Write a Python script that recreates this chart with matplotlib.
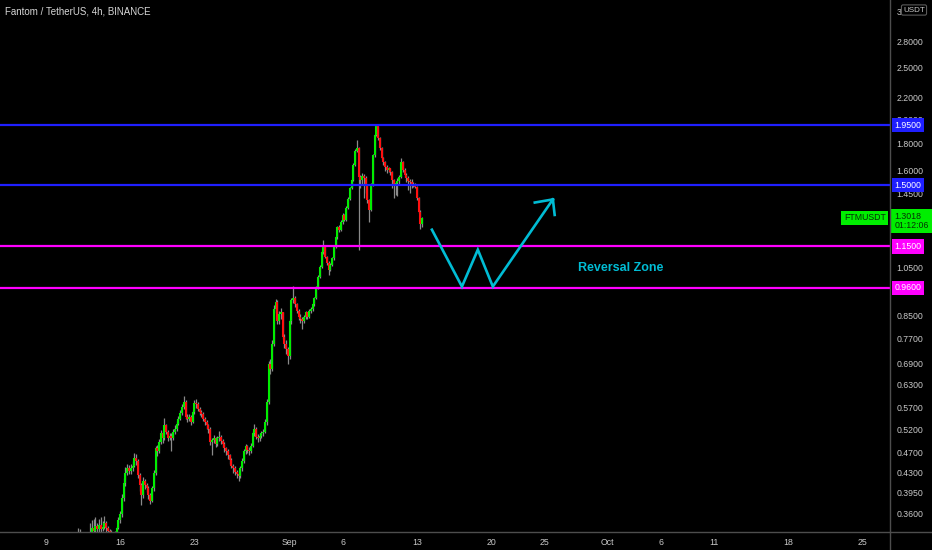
import matplotlib
matplotlib.use('Agg')
import matplotlib.pyplot as plt
import matplotlib.dates as mdates
from matplotlib import font_manager
from matplotlib.lines import Line2D
from matplotlib.transforms import blended_transform_factory
from datetime import datetime, timedelta
import numpy as np

# FTMUSDT 4h candles, first one opens 2021-08-12 00:00 (one row = one day)
first_open = 0.315
closes = [
    0.318, 0.322, 0.320, 0.316, 0.319, 0.321,  # Aug 12
    0.325, 0.331, 0.338, 0.334, 0.341, 0.336,
    0.343, 0.337, 0.340, 0.345, 0.338, 0.334,
    0.332, 0.329, 0.326, 0.330, 0.338, 0.350,
    0.359, 0.385, 0.411, 0.429, 0.438, 0.434,  # Aug 16
    0.438, 0.443, 0.458, 0.453, 0.425, 0.407,
    0.390, 0.415, 0.407, 0.402, 0.390, 0.381,
    0.402, 0.429, 0.478, 0.472, 0.491, 0.510,
    0.499, 0.528, 0.514, 0.499, 0.505, 0.499,  # Aug 20
    0.514, 0.521, 0.532, 0.544, 0.558, 0.573,
    0.585, 0.549, 0.544, 0.549, 0.537, 0.561,
    0.583, 0.580, 0.568, 0.561, 0.556, 0.544,
    0.537, 0.528, 0.521, 0.491, 0.495, 0.499,  # Aug 24
    0.488, 0.499, 0.503, 0.494, 0.488, 0.478,
    0.472, 0.464, 0.454, 0.443, 0.438, 0.431,
    0.427, 0.424, 0.438, 0.452, 0.472, 0.482,
    0.474, 0.472, 0.484, 0.510, 0.521, 0.503,  # Aug 28
    0.499, 0.505, 0.510, 0.514, 0.537, 0.585,
    0.690, 0.675, 0.752, 0.875, 0.905, 0.831,
    0.856, 0.863, 0.776, 0.752, 0.736, 0.714,
    0.831, 0.913, 0.920, 0.894, 0.869, 0.847,  # Sep 1
    0.838, 0.832, 0.847, 0.863, 0.847, 0.869,
    0.875, 0.894, 0.920, 0.960, 1.009, 1.054,
    1.124, 1.148, 1.098, 1.072, 1.040, 1.063,
    1.093, 1.145, 1.196, 1.250, 1.237, 1.279,  # Sep 5
    1.320, 1.291, 1.362, 1.416, 1.482, 1.536,
    1.639, 1.741, 1.761, 1.556, 1.536, 1.563,
    1.546, 1.503, 1.408, 1.349, 1.503, 1.712,
    1.867, 1.942, 1.842, 1.761, 1.690, 1.657,  # Sep 9
    1.626, 1.604, 1.618, 1.587, 1.536, 1.496,
    1.516, 1.530, 1.556, 1.662, 1.604, 1.570,
    1.546, 1.530, 1.523, 1.510, 1.510, 1.490,
    1.419, 1.337, 1.269, 1.302,                # Sep 13
]
highs = [
    0.338, 0.336, 0.324, 0.322, 0.323, 0.326,
    0.330, 0.345, 0.350, 0.352, 0.355, 0.346,
    0.351, 0.355, 0.348, 0.356, 0.349, 0.341,
    0.337, 0.335, 0.332, 0.334, 0.341, 0.354,
    0.364, 0.392, 0.420, 0.440, 0.446, 0.444,
    0.446, 0.452, 0.468, 0.466, 0.457, 0.430,
    0.411, 0.422, 0.418, 0.412, 0.405, 0.393,
    0.406, 0.436, 0.484, 0.486, 0.498, 0.518,
    0.515, 0.545, 0.532, 0.518, 0.512, 0.510,
    0.520, 0.528, 0.538, 0.550, 0.565, 0.580,
    0.600, 0.590, 0.556, 0.556, 0.552, 0.566,
    0.590, 0.593, 0.585, 0.572, 0.565, 0.560,
    0.548, 0.541, 0.532, 0.524, 0.500, 0.506,
    0.503, 0.505, 0.515, 0.506, 0.497, 0.492,
    0.480, 0.476, 0.466, 0.458, 0.447, 0.442,
    0.436, 0.432, 0.442, 0.458, 0.476, 0.488,
    0.485, 0.480, 0.490, 0.515, 0.532, 0.524,
    0.508, 0.510, 0.516, 0.520, 0.542, 0.592,
    0.700, 0.705, 0.765, 0.890, 0.915, 0.910,
    0.868, 0.880, 0.866, 0.785, 0.765, 0.742,
    0.838, 0.920, 0.968, 0.928, 0.900, 0.878,
    0.856, 0.845, 0.852, 0.870, 0.866, 0.876,
    0.882, 0.900, 0.925, 0.968, 1.015, 1.060,
    1.130, 1.183, 1.150, 1.105, 1.078, 1.070,
    1.100, 1.152, 1.205, 1.258, 1.262, 1.290,
    1.330, 1.325, 1.370, 1.425, 1.490, 1.545,
    1.650, 1.755, 1.825, 1.770, 1.570, 1.580,
    1.575, 1.560, 1.510, 1.415, 1.515, 1.720,
    1.875, 1.955, 1.945, 1.850, 1.770, 1.700,
    1.665, 1.640, 1.625, 1.620, 1.595, 1.540,
    1.525, 1.550, 1.570, 1.690, 1.665, 1.615,
    1.585, 1.565, 1.545, 1.540, 1.525, 1.515,
    1.495, 1.425, 1.345, 1.310,
]
lows = [
    0.312, 0.315, 0.316, 0.311, 0.313, 0.316,
    0.319, 0.323, 0.328, 0.329, 0.332, 0.331,
    0.333, 0.331, 0.334, 0.337, 0.333, 0.329,
    0.327, 0.324, 0.321, 0.324, 0.328, 0.336,
    0.346, 0.355, 0.381, 0.405, 0.425, 0.428,
    0.428, 0.434, 0.441, 0.445, 0.420, 0.398,
    0.374, 0.386, 0.400, 0.395, 0.384, 0.376,
    0.378, 0.398, 0.425, 0.462, 0.468, 0.487,
    0.490, 0.495, 0.508, 0.494, 0.495, 0.472,
    0.495, 0.508, 0.515, 0.528, 0.540, 0.553,
    0.568, 0.542, 0.536, 0.538, 0.530, 0.533,
    0.556, 0.570, 0.562, 0.552, 0.548, 0.538,
    0.530, 0.520, 0.512, 0.485, 0.465, 0.490,
    0.480, 0.484, 0.494, 0.487, 0.480, 0.470,
    0.465, 0.456, 0.446, 0.438, 0.430, 0.425,
    0.420, 0.415, 0.420, 0.434, 0.448, 0.466,
    0.468, 0.464, 0.468, 0.480, 0.505, 0.498,
    0.492, 0.494, 0.500, 0.505, 0.510, 0.530,
    0.580, 0.660, 0.670, 0.745, 0.860, 0.820,
    0.820, 0.840, 0.770, 0.740, 0.722, 0.690,
    0.705, 0.822, 0.900, 0.885, 0.860, 0.836,
    0.826, 0.802, 0.826, 0.840, 0.838, 0.842,
    0.860, 0.868, 0.888, 0.915, 0.955, 1.002,
    1.045, 1.115, 1.092, 1.062, 1.018, 1.032,
    1.055, 1.085, 1.140, 1.190, 1.225, 1.230,
    1.270, 1.282, 1.285, 1.355, 1.410, 1.476,
    1.530, 1.630, 1.735, 1.134, 1.480, 1.500,
    1.420, 1.450, 1.390, 1.280, 1.340, 1.495,
    1.700, 1.860, 1.830, 1.750, 1.680, 1.640,
    1.600, 1.580, 1.590, 1.570, 1.480, 1.420,
    1.440, 1.430, 1.500, 1.550, 1.590, 1.555,
    1.520, 1.470, 1.450, 1.480, 1.490, 1.480,
    1.405, 1.330, 1.240, 1.250,
]

levels = [1.95, 1.50, 1.15, 0.96]
level_colors = ['#1f1fff', '#1f1fff', '#ff00ff', '#ff00ff']
level_labels = ['1.9500', '1.5000', '1.1500', '0.9600']

price_ticks = [3.2, 2.8, 2.5, 2.2, 2.0, 1.8, 1.6, 1.45, 1.05, 0.85, 0.77,
               0.69, 0.63, 0.57, 0.52, 0.47, 0.43, 0.395, 0.36]
date_ticks = ['2021-08-09', '2021-08-16', '2021-08-23', '2021-09-01', '2021-09-06',
              '2021-09-13', '2021-09-20', '2021-09-25', '2021-10-01', '2021-10-06',
              '2021-10-11', '2021-10-18', '2021-10-25']
date_tick_labels = ['9', '16', '23', 'Sep', '6', '13', '20', '25', 'Oct', '6', '11', '18', '25']

# hand drawn W projection
w_times = ['2021-09-14 10:00', '2021-09-17 06:00', '2021-09-18 18:00',
           '2021-09-20 04:00', '2021-09-25 20:00']
w_prices = [1.237, 0.966, 1.134, 0.966, 1.411]
head_times = ['2021-09-24 03:00', '2021-09-26 00:00']
head_prices = [1.392, 1.319]

last_price = '1.3018'
countdown = '01:12:06'

bg = '#000000'
up_col = '#00ee00'
down_col = '#ff1010'
wick_col = '#8a8a8a'
txt_col = '#c9c9c9'
axis_col = '#4d4d4d'
cyan = '#00bcd4'

names = {f.name for f in font_manager.fontManager.ttflist}
narrow = 'Liberation Sans Narrow' if 'Liberation Sans Narrow' in names else 'Liberation Sans'

start = datetime(2021, 8, 12)
times = mdates.date2num([start + timedelta(hours=4 * i) for i in range(len(closes))])
opens = [first_open] + closes[:-1]
highs = np.maximum(highs, np.maximum(opens, closes))
lows = np.minimum(lows, np.minimum(opens, closes))
body_cols = [up_col if c >= o else down_col for o, c in zip(opens, closes)]

fig = plt.figure(figsize=(9.32, 5.5), dpi=100, facecolor=bg)
W, H = 932, 550
ax = fig.add_axes([0, (H - 532) / H, 890 / W, 532 / H])
ax.set_facecolor(bg)
ax.set_yscale('log')
ax.set_ylim(0.3323, 3.358)
x0 = mdates.date2num(datetime(2021, 8, 9)) - 46 / 10.597
ax.set_xlim(x0, x0 + 890 / 10.597)

ax.vlines(times, lows, highs, colors=wick_col, lw=0.9, zorder=2)
ax.vlines(times, opens, closes, colors=body_cols, lw=1.5, zorder=2.5)

for lev, col in zip(levels, level_colors):
    ax.axhline(lev, color=col, lw=1.6, zorder=3)

# W pattern and arrow head
w_x = mdates.date2num([datetime.fromisoformat(t) for t in w_times])
h_x = mdates.date2num([datetime.fromisoformat(t) for t in head_times])
ax.plot(w_x, w_prices, color=cyan, lw=1.9, solid_joinstyle='miter', zorder=4)
for hx, hp in zip(h_x, head_prices):
    ax.plot([hx, w_x[-1]], [hp, w_prices[-1]], color=cyan, lw=1.9, zorder=4)
ax.text(mdates.date2num(datetime(2021, 10, 2, 6)), 1.047, 'Reversal Zone', color=cyan,
        fontsize=9, fontweight='bold', family='Liberation Sans', ha='center', va='center')

for s in ax.spines.values():
    s.set_visible(False)

ax.yaxis.tick_right()
ax.set_yticks(price_ticks)
ax.set_yticklabels(['%.4f' % p for p in price_ticks])
ax.yaxis.set_minor_locator(matplotlib.ticker.NullLocator())
ax.tick_params(axis='y', length=0, pad=4.5, labelsize=6.3, labelcolor=txt_col)
for lab in ax.get_yticklabels():
    lab.set_family(narrow)

ax.set_xticks(mdates.date2num([datetime.fromisoformat(d) for d in date_ticks]))
ax.set_xticklabels(date_tick_labels)
ax.tick_params(axis='x', length=0, pad=4, labelsize=6.3, labelcolor=txt_col)
for lab in ax.get_xticklabels():
    lab.set_family(narrow)

# axis frame lines
fig.add_artist(Line2D([890 / W, 890 / W], [0, 1], color=axis_col, lw=1))
fig.add_artist(Line2D([0, 1], [(H - 532) / H, (H - 532) / H], color=axis_col, lw=1))

# price labels on the right scale
trans = blended_transform_factory(ax.transAxes, ax.transData)
for lev, col, lab in zip(levels, level_colors, level_labels):
    ax.annotate(lab, xy=(1, lev), xycoords=trans, xytext=(3.2, 0), textcoords='offset points',
                ha='left', va='center', fontsize=6.3, family=narrow, color='white', zorder=6,
                annotation_clip=False,
                bbox=dict(boxstyle='square,pad=0.3', fc=col, ec='none'))

ax.annotate(last_price + '\n' + countdown, xy=(1, 1.285), xycoords=trans, xytext=(3.2, 0),
            textcoords='offset points', ha='left', va='center', fontsize=6.3, family=narrow,
            color='#063006', linespacing=1.1, annotation_clip=False, zorder=6,
            bbox=dict(boxstyle='square,pad=0.35', fc=up_col, ec='none'))
ax.annotate('FTMUSDT', xy=(1, 1.3018), xycoords=trans, xytext=(-3, 0),
            textcoords='offset points', ha='right', va='center', fontsize=6.3, family=narrow,
            color='#063006', annotation_clip=False, zorder=6,
            bbox=dict(boxstyle='square,pad=0.3', fc=up_col, ec='none'))

# currency badge sits over the right part of the top price label, as in TradingView
fig.text(914 / W, 1 - 10 / H, 'USDT', ha='center', va='center', fontsize=5.8, family=narrow,
         color=txt_col, zorder=7,
         bbox=dict(boxstyle='round,pad=0.2,rounding_size=0.2', fc=bg, ec='#5a5a5a', lw=0.8))

fig.text(5 / W, 1 - 11 / H, 'Fantom / TetherUS, 4h, BINANCE', ha='left', va='center',
         fontsize=7, family=narrow, color='#d6d6d6')

fig.savefig('out.png', dpi=100, facecolor=bg)
